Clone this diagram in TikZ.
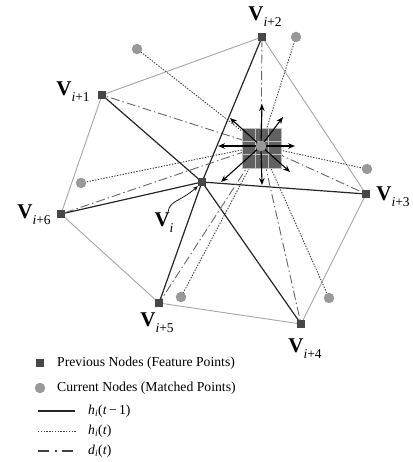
\documentclass[tikz,border=0pt]{standalone}
\usepackage{fontspec}
\setmainfont{Liberation Serif}
\usepackage{tikz}
\usetikzlibrary{arrows.meta}

\newcommand{\vlab}[1]{{\fontsize{21}{21}\selectfont\textbf{V}}\raisebox{-6pt}{\fontsize{13.5}{13.5}\selectfont\textit{i}#1}}

\begin{document}
\begin{tikzpicture}[x=1pt, y=-1pt,
    prev/.style={fill=black!72, minimum size=8pt, inner sep=0pt},
    curr/.style={circle, fill=black!40, minimum size=10.5pt, inner sep=0pt},
    hull/.style={black!35, line width=0.9pt},
    oldh/.style={black!85, line width=1.2pt},
    newh/.style={black!75, line width=0.9pt, dash pattern=on 1.4pt off 1.4pt},
    dist/.style={black!60, line width=0.9pt, dash pattern=on 9pt off 3pt on 1.5pt off 3pt},
    move/.style={-{Stealth[length=7pt,width=5.5pt]}, line width=1.1pt},
    cell/.style={fill=black!62, draw=black!25, line width=0.7pt},
    leg/.style={anchor=west, inner sep=0pt, font=\fontsize{13.7}{14}\selectfont}]
    \useasboundingbox (0,0) rectangle (412,462);
          % previous nodes
          \coordinate (v0) at (202,182);
          \coordinate (v1) at (102,95);
          \coordinate (v2) at (262,37);
          \coordinate (v3) at (366,194);
          \coordinate (v4) at (301,324);
          \coordinate (v5) at (159,303);
          \coordinate (v6) at (61,214);
          % current nodes
          \coordinate (c0) at (261,146);
          \coordinate (c1) at (137,49);
          \coordinate (c2) at (296,37);
          \coordinate (c3) at (367,169);
          \coordinate (c4) at (329,298);
          \coordinate (c5) at (181,297);
          \coordinate (c6) at (81,183);

          \draw[hull] (v1) -- (v2) -- (v3) -- (v4) -- (v5) -- (v6) -- cycle;
          \foreach \k in {1,...,6}{
                \draw[oldh] (v0) -- (v\k);
                \draw[dist] (c0) -- (v\k);
                \draw[newh] (c0) -- (c\k);
          }

          % search window
          \foreach \i in {0,1,2}
                \foreach \j in {0,1,2}
                      \draw[cell] (242+13*\i,128+13.33*\j) rectangle ++(13,13.33);
          \foreach \dx/\dy in {1/-42, 22/-29, 34/0, 29/26, 1/39, -40/36, -43/0, -31/-28}
                \draw[move] (c0) -- ++(\dx,\dy);

          \foreach \k in {0,...,6}{
                \node[prev] (pv\k) at (v\k) {};
                \node[curr] (pc\k) at (c\k) {};
          }

          % labels
          \node[inner sep=0pt] (l1) at (73,92) {\vlab{+1}};
          \node[inner sep=0pt] (l2) at (265,17) {\vlab{+2}};
          \node[inner sep=0pt] (l3) at (393,197) {\vlab{+3}};
          \node[inner sep=0pt] (l4) at (305,349) {\vlab{+4}};
          \node[inner sep=0pt] (l5) at (157,323) {\vlab{+5}};
          \node[inner sep=0pt] (l6) at (34,215) {\vlab{+6}};
          \node[inner sep=0pt] (l0) at (164,223) {\vlab{}};
          \draw[-{Stealth[length=5pt,width=4pt]}, line width=0.7pt]
                (168,212) .. controls (170,200) and (180,202) .. (pv0.south west) ;

          % legend
          \node[prev] (kp) at (40,363) {};
          \node[leg] (kpt) at (57,363) {Previous Nodes (Feature Points)};
          \node[curr] (kc) at (40,388) {};
          \node[leg] (kct) at (57,388) {Current Nodes (Matched Points)};
          \coordinate (k1a) at (38,411); \coordinate (k1b) at (75,411);
          \coordinate (k2a) at (38,431); \coordinate (k2b) at (76,431);
          \coordinate (k3a) at (38,451); \coordinate (k3b) at (75,451);
          \draw[oldh] (k1a) -- (k1b);
          \draw[newh] (k2a) -- (k2b);
          \draw[black!75, line width=1.1pt, dash pattern=on 11pt off 6pt on 1.5pt off 5pt] (k3a) -- (k3b);
          \node[leg] (kh1) at (88,411) {\textit{h}\textsubscript{\textit{i}}(\textit{t}\,−\,1)};
          \node[leg] (kh2) at (88,431) {\textit{h}\textsubscript{\textit{i}}(\textit{t})};
          \node[leg] (kd) at (88,451) {\textit{d}\textsubscript{\textit{i}}(\textit{t})};
\end{tikzpicture}
\end{document}
